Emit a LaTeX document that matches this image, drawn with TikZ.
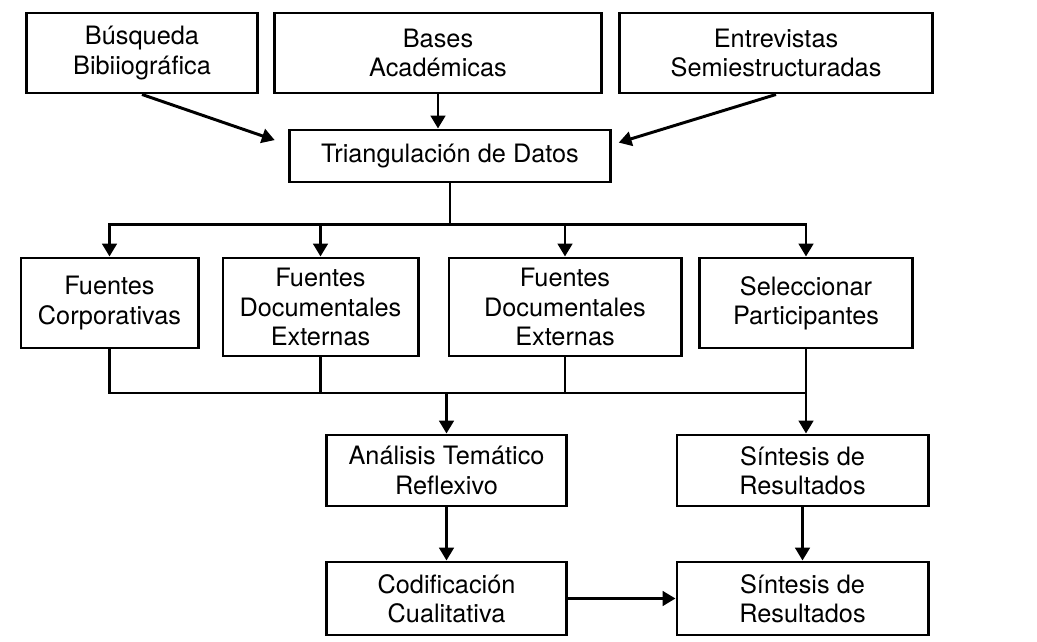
\documentclass[tikz,border=0pt]{standalone}
\usepackage{fontspec}
\setmainfont{TeX Gyre Heros}
\usetikzlibrary{arrows.meta}
\tikzset{
  box/.style={draw=black, line width=2.1pt, align=center, inner sep=0pt, font=\fontsize{18}{20.8}\selectfont},
  wire/.style={line width=2.1pt},
  arr/.style={line width=2.1pt, -{Triangle[length=3.2mm,width=3.6mm]}},
}
\begin{document}
\begin{tikzpicture}[x=0.025cm, y=-0.025cm]
    \useasboundingbox[fill=white] (0,0) rectangle (1037,642);

    % sources
    \node[box, minimum width=5.75cm, minimum height=2cm] (busq) at (142,53) {Búsqueda\\Bibiiográfica};
    \node[box, minimum width=8.15cm, minimum height=2cm] (bases) at (438,53) {Bases\\Académicas};
    \node[box, minimum width=7.8cm, minimum height=2cm] (entrev) at (776,53) {Entrevistas\\Semiestructuradas};
    \node[box, minimum width=8.025cm, minimum height=1.3cm] (tri) at (450,156) {Triangulación de Datos};

    % second row
    \node[box, minimum width=4.425cm, minimum height=2.25cm] (corp) at (109.5,303) {Fuentes\\Corporativas};
    \node[box, minimum width=4.875cm, minimum height=2.45cm] (fdea) at (320.5,307) {Fuentes\\Documentales\\Externas};
    \node[box, minimum width=5.8cm, minimum height=2.45cm] (fdeb) at (565,307) {Fuentes\\Documentales\\Externas};
    \node[box, minimum width=5.325cm, minimum height=2.25cm] (selec) at (806,303) {Seleccionar\\Participantes};

    % analysis
    \node[box, minimum width=5.975cm, minimum height=1.775cm] (anal) at (446.5,470.5) {Análisis Temático\\Reflexivo};
    \node[box, minimum width=6.275cm, minimum height=1.775cm] (sinta) at (802.5,470.5) {Síntesis de\\Resultados};
    \node[box, minimum width=5.975cm, minimum height=1.825cm] (cod) at (446.5,598.5) {Codificación\\Cualitativa};
    \node[box, minimum width=6.275cm, minimum height=1.825cm] (sintb) at (802.5,598.5) {Síntesis de\\Resultados};

    % into triangulation
    \draw[arr, shorten >=10pt] (busq.south) -- (tri.176);
    \draw[arr] (bases.south) -- (bases.south |- tri.north);
    \draw[arr, shorten >=5pt] (entrev.south) -- (tri.4);

    % split
    \path (tri.south) ++(0,41) coordinate (split);
    \draw[wire] (tri.south) -- (split);
    \foreach \n in {corp,fdea,fdeb,selec}
        \draw[arr] (split) -| (\n.north);

    % merge
    \draw[wire] (corp.south) |- (selec.south |- 0,393);
    \draw[wire] (fdea.south) -- (fdea.south |- 0,393);
    \draw[wire] (fdeb.south) -- (fdeb.south |- 0,393);
    \draw[arr] (anal.north |- 0,393) -- (anal.north);
    \draw[arr] (selec.south) -- (selec.south |- sinta.north);

    \draw[arr] (anal) -- (cod);
    \draw[arr] (sinta) -- (sintb);
    \draw[arr] (cod) -- (sintb);
\end{tikzpicture}
\end{document}
